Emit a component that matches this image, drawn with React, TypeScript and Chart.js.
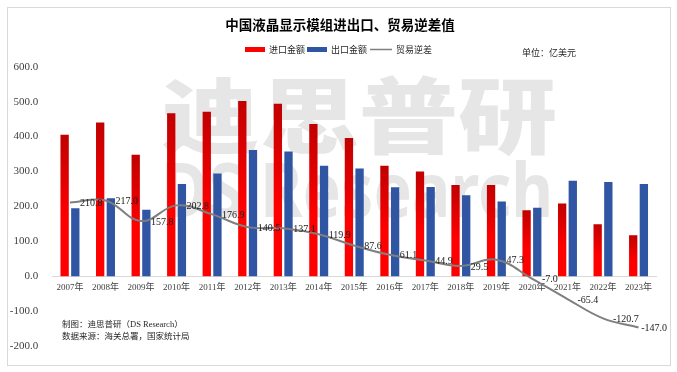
import { useEffect, useRef } from "react";
import { Chart, registerables } from "chart.js";

Chart.register(...registerables);

const years = [
  "2007年", "2008年", "2009年", "2010年", "2011年", "2012年", "2013年", "2014年", "2015年",
  "2016年", "2017年", "2018年", "2019年", "2020年", "2021年", "2022年", "2023年",
];
const importValues = [405, 440, 348, 467, 471, 502, 494, 436, 396, 316, 300, 261, 261, 189, 208, 149, 117];
const exportValues = [194.2, 223.0, 190.2, 264.2, 294.1, 361.5, 356.9, 316.1, 308.4, 254.9, 255.1, 231.5, 213.7, 196.0, 273.4, 269.7, 264.0];
const tradeDeficit = [210.8, 217.0, 157.8, 202.8, 176.9, 140.5, 137.1, 119.9, 87.6, 61.1, 44.9, 29.5, 47.3, -7.0, -65.4, -120.7, -147.0];
const seriesNames = ["进口金额", "出口金额", "贸易逆差"];
const titleText = "中国液晶显示模组进出口、贸易逆差值";
const unitText = "单位：亿美元";
const footerLines = ["制图：迪思普研（DS Research）", "数据来源：海关总署，国家统计局"];
const yMin = -200;
const yMax = 600;
const yStep = 100;

const SERIF = '"Liberation Serif", "Noto Sans CJK SC", serif';
const CJK = '"Noto Sans CJK SC", sans-serif';
const RED = "#FF0000";
const DARK_RED = "#C00000";
const BLUE = "#2F55A3";
const GRAY_LINE = "#7F7F7F";
const TEXT = "#262626";

const decorPlugin = {
  id: "decor",
  beforeDraw(chart: any) {
    const ctx = chart.ctx;
    ctx.save();
    ctx.fillStyle = "#ffffff";
    ctx.fillRect(0, 0, chart.width, chart.height);
    ctx.strokeStyle = "#d9d9d9";
    ctx.lineWidth = 1;
    ctx.strokeRect(7.5, 7.5, 663, 358);
    // watermark
    ctx.fillStyle = "#e6e6e6";
    ctx.font = '900 90px "Noto Sans CJK SC"';
    ctx.textAlign = "center";
    ctx.textBaseline = "middle";
    ctx.save();
    ctx.translate(359, 116);
    ctx.scale(1.1, 0.92);
    ctx.fillText("迪思普研", 0, 0);
    ctx.restore();
    ctx.font = '700 76px "Noto Sans", sans-serif';
    ctx.textAlign = "left";
    ctx.textBaseline = "alphabetic";
    ctx.fillText("DS Research", 161, 217, 392);
    ctx.restore();
  },
  afterDatasetsDraw(chart: any) {
    const ctx = chart.ctx;
    const meta = chart.getDatasetMeta(2);
    ctx.save();
    ctx.font = "10px " + SERIF;
    ctx.fillStyle = "#1a1a1a";
    ctx.textAlign = "left";
    ctx.textBaseline = "middle";
    meta.data.forEach((pt: any, i: number) => {
      const label = tradeDeficit[i].toFixed(1);
      const w = ctx.measureText(label).width;
      let x = pt.x + 10;
      if (x + w > 667) x = 667 - w;
      ctx.fillText(label, x, pt.y + 1);
    });
    ctx.restore();
  },
  afterDraw(chart: any) {
    const ctx = chart.ctx;
    ctx.save();
    // title
    ctx.fillStyle = "#000000";
    ctx.font = "bold 13.5px " + CJK;
    ctx.textAlign = "center";
    ctx.textBaseline = "middle";
    ctx.fillText(titleText, 340, 24.5);
    // legend
    ctx.font = "9px " + CJK;
    ctx.textAlign = "left";
    ctx.fillStyle = TEXT;
    const ly = 49.5;
    let x = 245;
    ctx.fillStyle = RED;
    ctx.fillRect(x, ly - 2.5, 20, 5);
    x += 24;
    ctx.fillStyle = TEXT;
    ctx.fillText(seriesNames[0], x, ly);
    x += ctx.measureText(seriesNames[0]).width + 2;
    ctx.fillStyle = BLUE;
    ctx.fillRect(x, ly - 2.5, 20, 5);
    x += 24;
    ctx.fillStyle = TEXT;
    ctx.fillText(seriesNames[1], x, ly);
    x += ctx.measureText(seriesNames[1]).width + 3;
    ctx.strokeStyle = GRAY_LINE;
    ctx.lineWidth = 1.5;
    ctx.beginPath();
    ctx.moveTo(x, ly);
    ctx.lineTo(x + 22, ly);
    ctx.stroke();
    x += 26;
    ctx.fillText(seriesNames[2], x, ly);
    // unit
    ctx.fillText(unitText, 522, 53);
    // footer
    ctx.font = "8.5px " + SERIF;
    ctx.fillText(footerLines[0], 62, 324.5);
    ctx.fillText(footerLines[1], 62, 336.5);
    ctx.restore();
  },
};

function redGradient(context: any) {
  const chart = context.chart;
  const y = chart.scales && chart.scales.y;
  if (!chart.chartArea || !y || context.raw == null) return RED;
  const top = y.getPixelForValue(context.raw);
  const bottom = y.getPixelForValue(0);
  if (!isFinite(top) || !isFinite(bottom) || top === bottom) return RED;
  const g = chart.ctx.createLinearGradient(0, top, 0, bottom);
  g.addColorStop(0, DARK_RED);
  g.addColorStop(0.6, RED);
  g.addColorStop(1, RED);
  return g;
}

export default function App() {
  const ref = useRef<HTMLCanvasElement | null>(null);
  useEffect(() => {
    if (!ref.current) return;
    const chart = new Chart(ref.current, {
      type: "bar",
      data: {
        labels: years,
        datasets: [
          {
            type: "bar",
            label: seriesNames[0],
            data: importValues,
            backgroundColor: redGradient as any,
            categoryPercentage: 0.6,
            barPercentage: 0.78,
            order: 1,
          },
          {
            type: "bar",
            label: seriesNames[1],
            data: exportValues,
            backgroundColor: BLUE,
            categoryPercentage: 0.6,
            barPercentage: 0.78,
            order: 2,
          },
          {
            type: "line",
            label: seriesNames[2],
            data: tradeDeficit,
            borderColor: GRAY_LINE,
            borderWidth: 2,
            pointRadius: 0,
            tension: 0.4,
            fill: false,
            order: 0,
          } as any,
        ],
      },
      options: {
        responsive: false,
        animation: false,
        devicePixelRatio: 1,
        layout: { padding: { top: 66.7, bottom: 26, left: 8, right: 20.7 } },
        plugins: {
          legend: { display: false },
          title: { display: false },
          tooltip: { enabled: false },
        },
        scales: {
          x: {
            position: { y: 0 } as any,
            grid: { display: true, color: "transparent", drawTicks: false, drawOnChartArea: false },
            border: { display: true, color: "#d9d9d9", width: 1 },
            ticks: {
              font: { family: SERIF, size: 9 },
              color: "#404040",
              padding: 6,
              maxRotation: 0,
              autoSkip: false,
            },
          },
          y: {
            min: yMin,
            max: yMax,
            grid: { display: false },
            border: { display: false },
            ticks: {
              stepSize: yStep,
              font: { family: SERIF, size: 11 },
              color: "#404040",
              padding: 6,
              callback: (v: any) => Number(v).toFixed(1),
            },
            afterFit: (s: any) => {
              s.width = 44.2;
            },
          },
        },
      },
      plugins: [decorPlugin],
    });
    return () => chart.destroy();
  }, []);
  return (
    <div style={{ position: "absolute", left: 0, top: 0, width: 677, height: 372 }}>
      <canvas ref={ref} width={677} height={372} style={{ display: "block" }} />
    </div>
  );
}
